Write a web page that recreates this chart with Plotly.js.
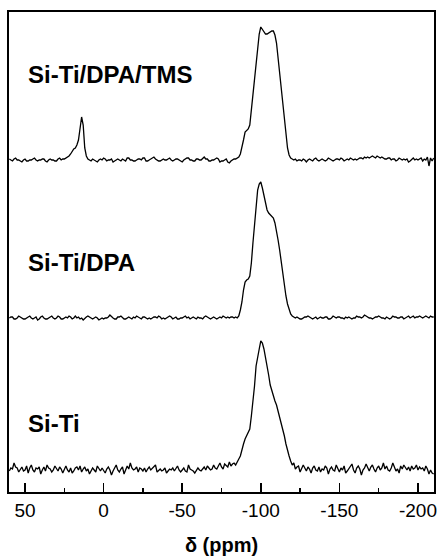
<!DOCTYPE html>
<html><head><meta charset="utf-8">
<script src="https://cdn.plot.ly/plotly-3.0.1.min.js"></script>
<style>html,body{margin:0;padding:0;background:#fff}#c{width:440px;height:559px}</style>
</head><body><div id="c"></div>
<script>
// chemical shift grid (ppm), 1 ppm steps from 60 to -210
const shiftPpm = [60,59,58,57,56,55,54,53,52,51,
50,49,48,47,46,45,44,43,42,41,
40,39,38,37,36,35,34,33,32,31,
30,29,28,27,26,25,24,23,22,21,
20,19,18,17,16,15,14,13,12,11,
10,9,8,7,6,5,4,3,2,1,
0,-1,-2,-3,-4,-5,-6,-7,-8,-9,
-10,-11,-12,-13,-14,-15,-16,-17,-18,-19,
-20,-21,-22,-23,-24,-25,-26,-27,-28,-29,
-30,-31,-32,-33,-34,-35,-36,-37,-38,-39,
-40,-41,-42,-43,-44,-45,-46,-47,-48,-49,
-50,-51,-52,-53,-54,-55,-56,-57,-58,-59,
-60,-61,-62,-63,-64,-65,-66,-67,-68,-69,
-70,-71,-72,-73,-74,-75,-76,-77,-78,-79,
-80,-81,-82,-83,-84,-85,-86,-87,-88,-89,
-90,-91,-92,-93,-94,-95,-96,-97,-98,-99,
-100,-101,-102,-103,-104,-105,-106,-107,-108,-109,
-110,-111,-112,-113,-114,-115,-116,-117,-118,-119,
-120,-121,-122,-123,-124,-125,-126,-127,-128,-129,
-130,-131,-132,-133,-134,-135,-136,-137,-138,-139,
-140,-141,-142,-143,-144,-145,-146,-147,-148,-149,
-150,-151,-152,-153,-154,-155,-156,-157,-158,-159,
-160,-161,-162,-163,-164,-165,-166,-167,-168,-169,
-170,-171,-172,-173,-174,-175,-176,-177,-178,-179,
-180,-181,-182,-183,-184,-185,-186,-187,-188,-189,
-190,-191,-192,-193,-194,-195,-196,-197,-198,-199,
-200,-201,-202,-203,-204,-205,-206,-207,-208,-209,
-210];

const sampleNames = ["Si-Ti/DPA/TMS", "Si-Ti/DPA", "Si-Ti"];
const stackOffsets = [332, 174, 21];

const intensityTMS = [1,0,-1,1,2,0,0,-1,-2,0,
1,-1,-1,0,0,1,2,0,-1,0,
0,1,1,-1,-2,0,1,0,0,-1,
-1,1,2,0,1,1,2,3,4,6,
9,11,12,15,20,32,43,35,12,4,
1,0,-1,1,0,-1,-2,0,1,0,
2,1,-1,0,0,1,-2,-1,0,1,
0,-1,1,0,-1,2,2,0,0,-1,
-1,0,1,1,0,2,2,-1,-1,0,
1,2,3,1,0,-1,-1,0,1,0,
0,1,2,0,-1,0,1,1,0,-1,
-2,0,1,2,2,0,0,-1,-1,1,
1,0,0,2,3,1,1,-1,-1,0,
0,1,2,1,-2,-1,-1,0,1,-2,
-3,-1,0,1,1,2,3,6,12,20,
28,30,31,35,50,65,81,97,113,126,
133,131,128,126,126,127,128,129,129,125,
117,102,85,70,55,38,22,12,5,2,
1,0,1,-1,0,0,-1,1,0,-2,
0,1,0,-1,1,2,0,-1,0,1,
0,-1,0,2,1,0,-1,0,1,1,
0,2,1,-1,0,1,0,2,1,0,
1,0,1,2,2,1,3,2,3,2,
3,4,3,2,4,3,2,3,2,1,
1,2,2,0,1,1,-1,0,2,1,
0,1,0,1,-2,-1,1,2,0,1,
0,1,2,-1,1,0,3,-6,2,-1,
2];

const intensityDPA = [0,1,1,-1,-1,0,2,1,0,-1,
-1,0,1,2,0,-1,0,1,-2,-1,
1,2,0,-1,-1,0,1,2,0,-1,
0,2,1,-1,-1,0,1,0,2,1,
-1,0,2,0,1,-1,0,-2,0,1,
2,1,0,-1,0,1,0,-2,-1,0,
-1,0,0,1,3,1,0,-1,-1,1,
1,2,0,-1,-1,0,1,0,-1,1,
0,2,1,0,-1,1,1,0,-1,0,
-1,0,1,1,0,2,1,-1,0,-1,
0,1,2,1,-1,0,1,-1,-1,0,
0,1,2,0,1,-1,0,1,0,-1,
1,0,0,-1,1,2,1,0,-1,0,
1,0,-1,0,1,0,2,1,0,1,
0,1,1,0,1,0,2,8,16,28,
36,38,39,42,55,75,95,112,128,134,
136,130,122,114,108,105,103,101,100,95,
88,78,68,55,42,32,22,14,8,4,
2,1,0,1,0,-1,-1,0,1,1,
2,1,0,-1,0,1,-1,0,1,0,
0,1,1,-1,-1,0,2,1,0,1,
1,0,0,-1,1,0,1,0,-1,0,
0,2,1,1,0,1,3,2,1,0,
0,-1,0,1,1,2,1,0,0,-1,
1,0,-1,0,2,1,1,0,0,1,
1,-1,0,1,2,0,1,2,0,1,
1,2,1,0,1,2,1,0,2,1,
1];

const intensitySiTi = [0,3,2,8,4,3,-1,2,4,0,
1,5,-2,3,6,1,-1,3,2,4,
-3,1,4,0,6,3,2,-1,1,5,
3,0,4,2,-2,2,5,1,-1,3,
-2,0,3,4,1,5,-1,2,4,0,
2,-3,0,3,1,-1,5,2,0,3,
0,-2,2,4,1,-4,0,3,6,1,
-1,2,4,-3,1,5,2,8,3,1,
2,4,-1,3,2,0,3,-1,2,4,
1,3,5,6,-1,1,2,0,1,3,
-2,0,2,1,3,0,2,5,1,-1,
1,3,0,-1,6,2,1,0,-2,1,
3,1,0,2,4,1,5,3,1,2,
6,3,2,5,8,4,2,7,5,4,
9,5,7,8,6,10,12,15,22,27,
32,36,40,42,55,69,85,105,112,122,
130,128,122,114,105,96,86,80,75,70,
66,60,56,49,42,35,27,20,15,10,
6,8,2,4,5,-1,2,6,3,0,
4,2,-2,3,5,1,0,4,-1,2,
1,5,3,-3,2,4,1,0,6,2,
-1,3,1,5,-2,0,2,4,7,1,
-2,3,5,2,-4,1,3,7,4,0,
4,6,2,-1,3,5,1,3,8,2,
5,1,0,3,8,4,0,2,-2,5,
2,6,3,1,4,0,5,2,3,6,
1,4,2,3,0,5,2,-3,1,-2,
-3];

const tickVals = [50, 0, -50, -100, -150, -200];
const tickText = ["50", "0", "-50", "-100", "-150", "-200"];

const spectra = [intensityTMS, intensityDPA, intensitySiTi];
const traces = spectra.map((s, k) => ({
  x: shiftPpm,
  y: s.map(v => v + stackOffsets[k]),
  type: 'scatter', mode: 'lines',
  line: {color: '#000', width: 1.3},
  hoverinfo: 'skip', showlegend: false
}));

const labelY = [0.87, 0.478, 0.142];
const annotations = sampleNames.map((n, k) => ({
  text: '<b>' + n + '</b>', xref: 'paper', yref: 'paper',
  x: 0.04, y: labelY[k], xanchor: 'left', yanchor: 'middle', showarrow: false,
  font: {family: 'Liberation Sans, Arial, sans-serif', size: 24, color: '#000'}
}));

const layout = {
  width: 440, height: 559,
  margin: {l: 9, r: 6, t: 12, b: 67},
  paper_bgcolor: '#fff', plot_bgcolor: '#fff',
  showlegend: false,
  font: {family: 'Liberation Sans, Arial, sans-serif', color: '#000'},
  xaxis: {
    range: [60.2, -210.2], showgrid: false, zeroline: false,
    showline: true, mirror: true, linecolor: '#000', linewidth: 2,
    ticks: 'inside', ticklen: 9, tickwidth: 1.5, tickcolor: '#000',
    tickvals: tickVals, ticktext: tickText,
    tickfont: {size: 19, family: 'Liberation Sans, Arial, sans-serif'},
    minor: {ticks: 'inside', dtick: 25, tick0: 0, ticklen: 4, tickwidth: 1.5, tickcolor: '#000', showgrid: false},
    title: {text: '<b>δ (ppm)</b>', font: {size: 20}, standoff: 18}
  },
  yaxis: {
    range: [0, 480], showgrid: false, zeroline: false,
    showline: true, mirror: true, linecolor: '#000', linewidth: 2,
    ticks: '', showticklabels: false
  },
  annotations: annotations
};

Plotly.newPlot('c', traces, layout, {displayModeBar: false, staticPlot: true});
</script>
</body></html>
